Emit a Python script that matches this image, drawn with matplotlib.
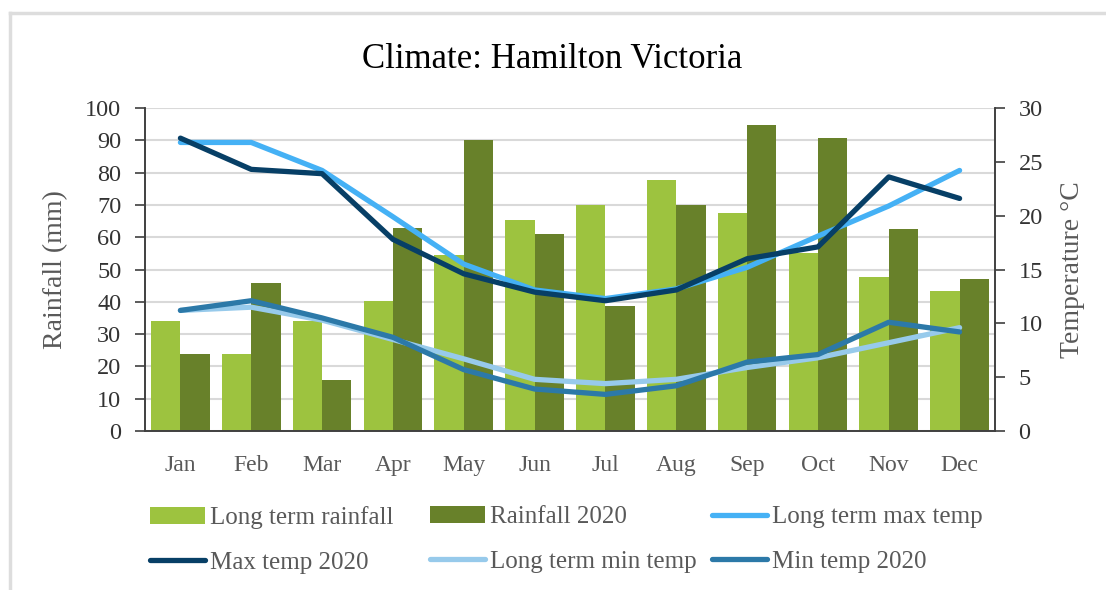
import matplotlib
matplotlib.use("Agg")
import matplotlib.pyplot as plt
from matplotlib.lines import Line2D
import numpy as np

plt.rcParams['font.family'] = ['Liberation Serif', 'DejaVu Serif']

months = ['Jan', 'Feb', 'Mar', 'Apr', 'May', 'Jun', 'Jul', 'Aug', 'Sep', 'Oct', 'Nov', 'Dec']
rain_long_term = [34, 23.8, 34, 40.1, 54.6, 65.4, 70, 77.8, 67.6, 55.2, 47.8, 43.2]
rain_2020 = [23.8, 45.7, 15.7, 63, 90.1, 61.1, 38.6, 70, 94.8, 90.7, 62.6, 47.2]
max_long_term = [26.8, 26.8, 24.2, 19.9, 15.5, 13.1, 12.3, 13.2, 15.2, 18.1, 20.9, 24.2]
max_2020 = [27.2, 24.3, 23.9, 17.8, 14.6, 12.9, 12.1, 13.1, 16.0, 17.1, 23.6, 21.6]
min_long_term = [11.2, 11.5, 10.3, 8.5, 6.7, 4.8, 4.4, 4.8, 5.9, 6.8, 8.2, 9.6]
min_2020 = [11.2, 12.1, 10.5, 8.7, 5.7, 3.9, 3.4, 4.2, 6.4, 7.1, 10.1, 9.2]

c_rain_lt = '#9DC33F'
c_rain_20 = '#68812A'
c_max_lt = '#45B1F5'
c_max_20 = '#073F66'
c_min_lt = '#97CAEB'
c_min_20 = '#2C79A8'
grey_txt = '#595959'
dark_txt = '#333333'

fig = plt.figure(figsize=(11.06, 5.90), dpi=100)
ax = fig.add_axes([145 / 1106, 1 - 431 / 590, 850 / 1106, 323 / 590])
ax2 = ax.twinx()

x = np.arange(len(months))
w = 0.415
b1 = ax.bar(x - w / 2, rain_long_term, w, color=c_rain_lt, zorder=2)
b2 = ax.bar(x + w / 2, rain_2020, w, color=c_rain_20, zorder=2)

lw = 3.8
l1, = ax2.plot(x, max_long_term, color=c_max_lt, lw=lw, solid_capstyle='round')
l2, = ax2.plot(x, max_2020, color=c_max_20, lw=lw, solid_capstyle='round')
l3, = ax2.plot(x, min_long_term, color=c_min_lt, lw=lw, solid_capstyle='round')
l4, = ax2.plot(x, min_2020, color=c_min_20, lw=lw, solid_capstyle='round')

ax.set_xlim(-0.5, 11.5)
ax.set_ylim(0, 100)
ax.set_yticks(np.arange(0, 101, 10))
ax2.set_ylim(0, 30)
ax2.set_yticks(np.arange(0, 31, 5))
ax.yaxis.grid(True, color='#D9D9D9', lw=1.5, zorder=0)
ax.set_axisbelow(True)

for a in (ax, ax2):
    a.spines['top'].set_visible(False)
    for s in ('left', 'right', 'bottom'):
        a.spines[s].set_color('#404040')
        a.spines[s].set_linewidth(1.2)

ax.set_xticks(x)
ax.set_xticklabels(months)
ax.tick_params(axis='x', length=0, pad=17, labelsize=17, labelcolor=grey_txt)
ax.tick_params(axis='y', length=7, width=1.2, color='#404040', pad=10,
               labelsize=17.5, labelcolor=dark_txt)
ax2.tick_params(axis='y', length=7, width=1.2, color='#404040', pad=10,
                labelsize=17.5, labelcolor=dark_txt)

ax.set_ylabel('Rainfall (mm)', fontsize=20, color=grey_txt, labelpad=12)
ax2.set_ylabel('Temperature °C', fontsize=20, color=grey_txt, labelpad=12)

fig.text(552 / 1106, 1 - 60 / 590, 'Climate: Hamilton Victoria', fontsize=25,
         ha='center', va='center', color='#000000')

# legend: three columns placed like the original
cols = [([b1, l2], ['Long term rainfall', 'Max temp 2020'], 150),
        ([b2, l3], ['Rainfall 2020', 'Long term min temp'], 430),
        ([l1, l4], ['Long term max temp', 'Min temp 2020'], 712)]
for handles, labels, xpos in cols:
    fig.legend(handles, labels, loc='upper left',
               bbox_to_anchor=(xpos / 1106, 1 - 506 / 590),
               frameon=False, fontsize=18, labelcolor=grey_txt,
               handlelength=2.2, handleheight=0.65, handletextpad=0.2,
               labelspacing=0.9, borderaxespad=0, borderpad=0)

# light outer frame (top and left edges visible in the original)
fig.add_artist(Line2D([10 / 1106, 1], [1 - 13 / 590, 1 - 13 / 590],
                      color='#DDDDDD', lw=2.5, transform=fig.transFigure))
fig.add_artist(Line2D([10 / 1106, 10 / 1106], [0, 1 - 13 / 590],
                      color='#DDDDDD', lw=2.5, transform=fig.transFigure))

fig.savefig('out.png', dpi=100)
